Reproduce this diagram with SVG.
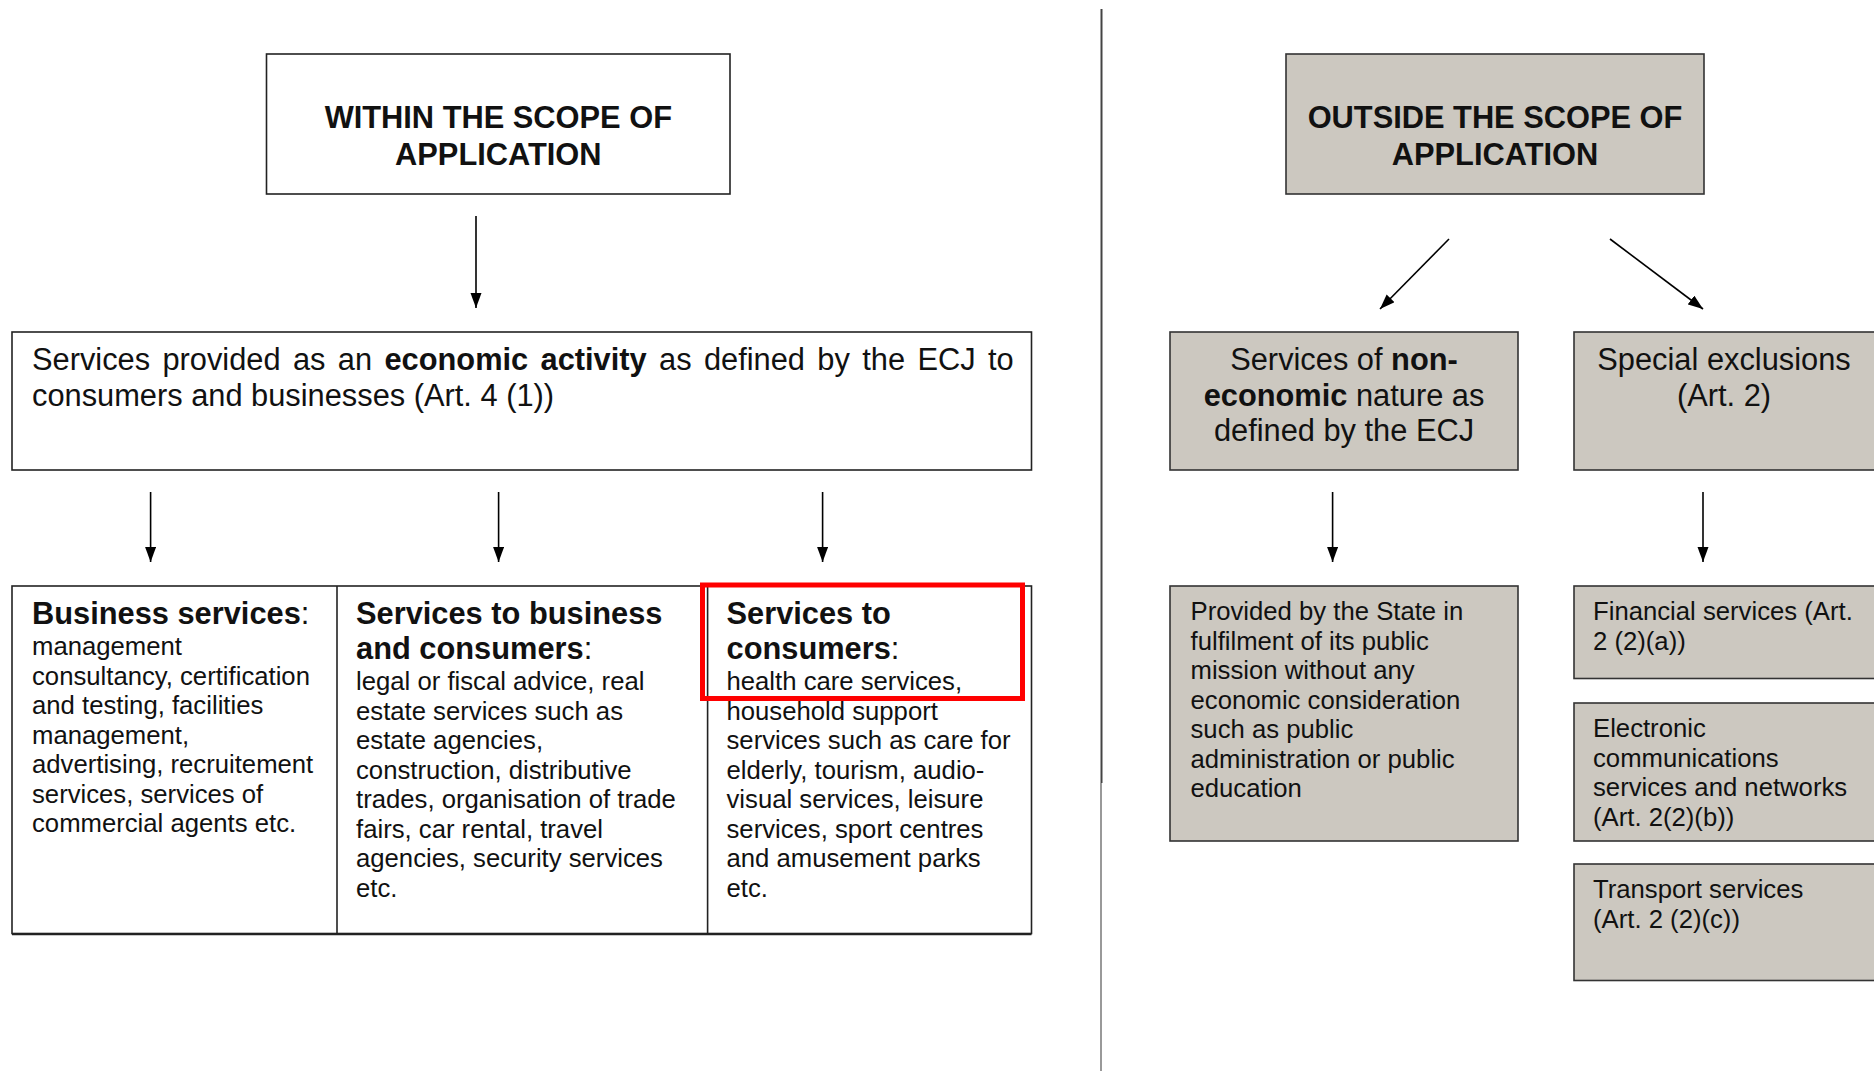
<svg xmlns="http://www.w3.org/2000/svg" width="1874" height="1071" viewBox="0 0 1874 1071">
<defs>
<marker id="ah" markerUnits="userSpaceOnUse" markerWidth="16" markerHeight="12" refX="15" refY="5.5" orient="auto">
<path d="M0,0 L15,5.5 L0,11 z" fill="#000"/>
</marker>
<style>
text{font-family:"Liberation Sans",Arial,sans-serif;fill:#111}
.big{font-size:30.8px}
.body{font-size:25.7px}
.b{font-weight:bold}
.box{fill:#fff;stroke:#222;stroke-width:1.6}
.gbox{fill:#ccc8c0;stroke:#333;stroke-width:1.6}
.conn line{stroke:#000;stroke-width:1.6;marker-end:url(#ah)}
</style>
</defs>
<rect width="1874" height="1071" fill="#fff"/>
<g id="divider">
<line x1="1101.5" y1="9" x2="1101.5" y2="783" stroke="#444" stroke-width="2"/>
<line x1="1101" y1="783" x2="1101" y2="1071" stroke="#999" stroke-width="2"/>
</g>
<g id="within">
<rect class="box" x="266.5" y="54" width="463.5" height="140"/>
<text class="big b" text-anchor="middle" x="498.3" y="128">WITHIN THE SCOPE OF</text>
<text class="big b" text-anchor="middle" x="498.3" y="165">APPLICATION</text>
</g>
<g id="economic">
<rect class="box" x="12" y="332" width="1019.5" height="138"/>
<text class="big" x="32" y="370" word-spacing="3.8">Services provided as an <tspan class="b">economic activity</tspan> as defined by the ECJ to</text>
<text class="big" x="32" y="405.5">consumers and businesses (Art. 4 (1))</text>
</g>
<g id="categories">
<rect class="box" x="12" y="586" width="1019.5" height="347.5"/>
<line x1="337" y1="586" x2="337" y2="933.5" stroke="#222" stroke-width="1.6"/>
<line x1="707.6" y1="586" x2="707.6" y2="933.5" stroke="#222" stroke-width="1.6"/>
<line x1="12" y1="934.5" x2="1031.5" y2="934.5" stroke="#222" stroke-width="1.5"/>
</g>
<g id="business">
<text class="big" x="32" y="624"><tspan class="b">Business services</tspan>:</text>
<text class="body" x="32">
<tspan x="32" y="655">management</tspan>
<tspan x="32" y="684.5">consultancy, certification</tspan>
<tspan x="32" y="714">and testing, facilities</tspan>
<tspan x="32" y="743.5">management,</tspan>
<tspan x="32" y="773">advertising, recruitement</tspan>
<tspan x="32" y="802.5">services, services of</tspan>
<tspan x="32" y="832">commercial agents etc.</tspan>
</text>
</g>
<g id="business-consumers">
<text class="big" x="356"><tspan x="356" y="624" class="b">Services to business</tspan><tspan x="356" y="659.4"><tspan class="b">and consumers</tspan>:</tspan></text>
<text class="body">
<tspan x="356" y="690">legal or fiscal advice, real</tspan>
<tspan x="356" y="719.5">estate services such as</tspan>
<tspan x="356" y="749">estate agencies,</tspan>
<tspan x="356" y="778.5">construction, distributive</tspan>
<tspan x="356" y="808">trades, organisation of trade</tspan>
<tspan x="356" y="837.5">fairs, car rental, travel</tspan>
<tspan x="356" y="867">agencies, security services</tspan>
<tspan x="356" y="896.5">etc.</tspan>
</text>
</g>
<g id="consumers">
<text class="big" x="726.5"><tspan x="726.5" y="624" class="b">Services to</tspan><tspan x="726.5" y="659.4"><tspan class="b">consumers</tspan>:</tspan></text>
<text class="body">
<tspan x="726.5" y="690">health care services,</tspan>
<tspan x="726.5" y="719.5">household support</tspan>
<tspan x="726.5" y="749">services such as care for</tspan>
<tspan x="726.5" y="778.5">elderly, tourism, audio-</tspan>
<tspan x="726.5" y="808">visual services, leisure</tspan>
<tspan x="726.5" y="837.5">services, sport centres</tspan>
<tspan x="726.5" y="867">and amusement parks</tspan>
<tspan x="726.5" y="896.5">etc.</tspan>
</text>
<rect x="702.5" y="585" width="320" height="113.5" fill="none" stroke="#f00" stroke-width="5"/>
</g>
<g id="outside">
<rect class="gbox" x="1286" y="54" width="418" height="140"/>
<text class="big b" text-anchor="middle" x="1495" y="128">OUTSIDE THE SCOPE OF</text>
<text class="big b" text-anchor="middle" x="1495" y="165">APPLICATION</text>
</g>
<g id="non-economic">
<rect class="gbox" x="1170" y="332" width="348" height="138"/>
<text class="big" text-anchor="middle" x="1344" y="370">Services of <tspan class="b">non-</tspan></text>
<text class="big" text-anchor="middle" x="1344" y="405.5"><tspan class="b">economic</tspan> nature as</text>
<text class="big" text-anchor="middle" x="1344" y="441">defined by the ECJ</text>
</g>
<g id="special">
<rect class="gbox" x="1574" y="332" width="310" height="138"/>
<text class="big" text-anchor="middle" x="1724" y="370">Special exclusions</text>
<text class="big" text-anchor="middle" x="1724" y="405.5">(Art. 2)</text>
</g>
<g id="state">
<rect class="gbox" x="1170" y="586" width="348" height="255"/>
<text class="body">
<tspan x="1190.5" y="620">Provided by the State in</tspan>
<tspan x="1190.5" y="649.5">fulfilment of its public</tspan>
<tspan x="1190.5" y="679">mission without any</tspan>
<tspan x="1190.5" y="708.5">economic consideration</tspan>
<tspan x="1190.5" y="738">such as public</tspan>
<tspan x="1190.5" y="767.5">administration or public</tspan>
<tspan x="1190.5" y="797">education</tspan>
</text>
</g>
<g id="financial">
<rect class="gbox" x="1574" y="586" width="310" height="92.5"/>
<text class="body"><tspan x="1593" y="620">Financial services (Art.</tspan><tspan x="1593" y="649.5">2 (2)(a))</tspan></text>
</g>
<g id="electronic">
<rect class="gbox" x="1574" y="703" width="310" height="138"/>
<text class="body"><tspan x="1593" y="737">Electronic</tspan><tspan x="1593" y="766.5">communications</tspan><tspan x="1593" y="796">services and networks</tspan><tspan x="1593" y="825.5">(Art. 2(2)(b))</tspan></text>
</g>
<g id="transport">
<rect class="gbox" x="1574" y="864" width="310" height="116.5"/>
<text class="body"><tspan x="1593" y="898">Transport services</tspan><tspan x="1593" y="927.5">(Art. 2 (2)(c))</tspan></text>
</g>
<g id="connectors" class="conn">
<line x1="476" y1="216" x2="476" y2="308"/>
<line x1="150.6" y1="492" x2="150.6" y2="562"/>
<line x1="498.6" y1="492" x2="498.6" y2="562"/>
<line x1="822.6" y1="492" x2="822.6" y2="562"/>
<line x1="1449" y1="239" x2="1380" y2="309"/>
<line x1="1610" y1="239" x2="1703" y2="309"/>
<line x1="1332.6" y1="492" x2="1332.6" y2="562"/>
<line x1="1703" y1="492" x2="1703" y2="562"/>
</g>
</svg>
